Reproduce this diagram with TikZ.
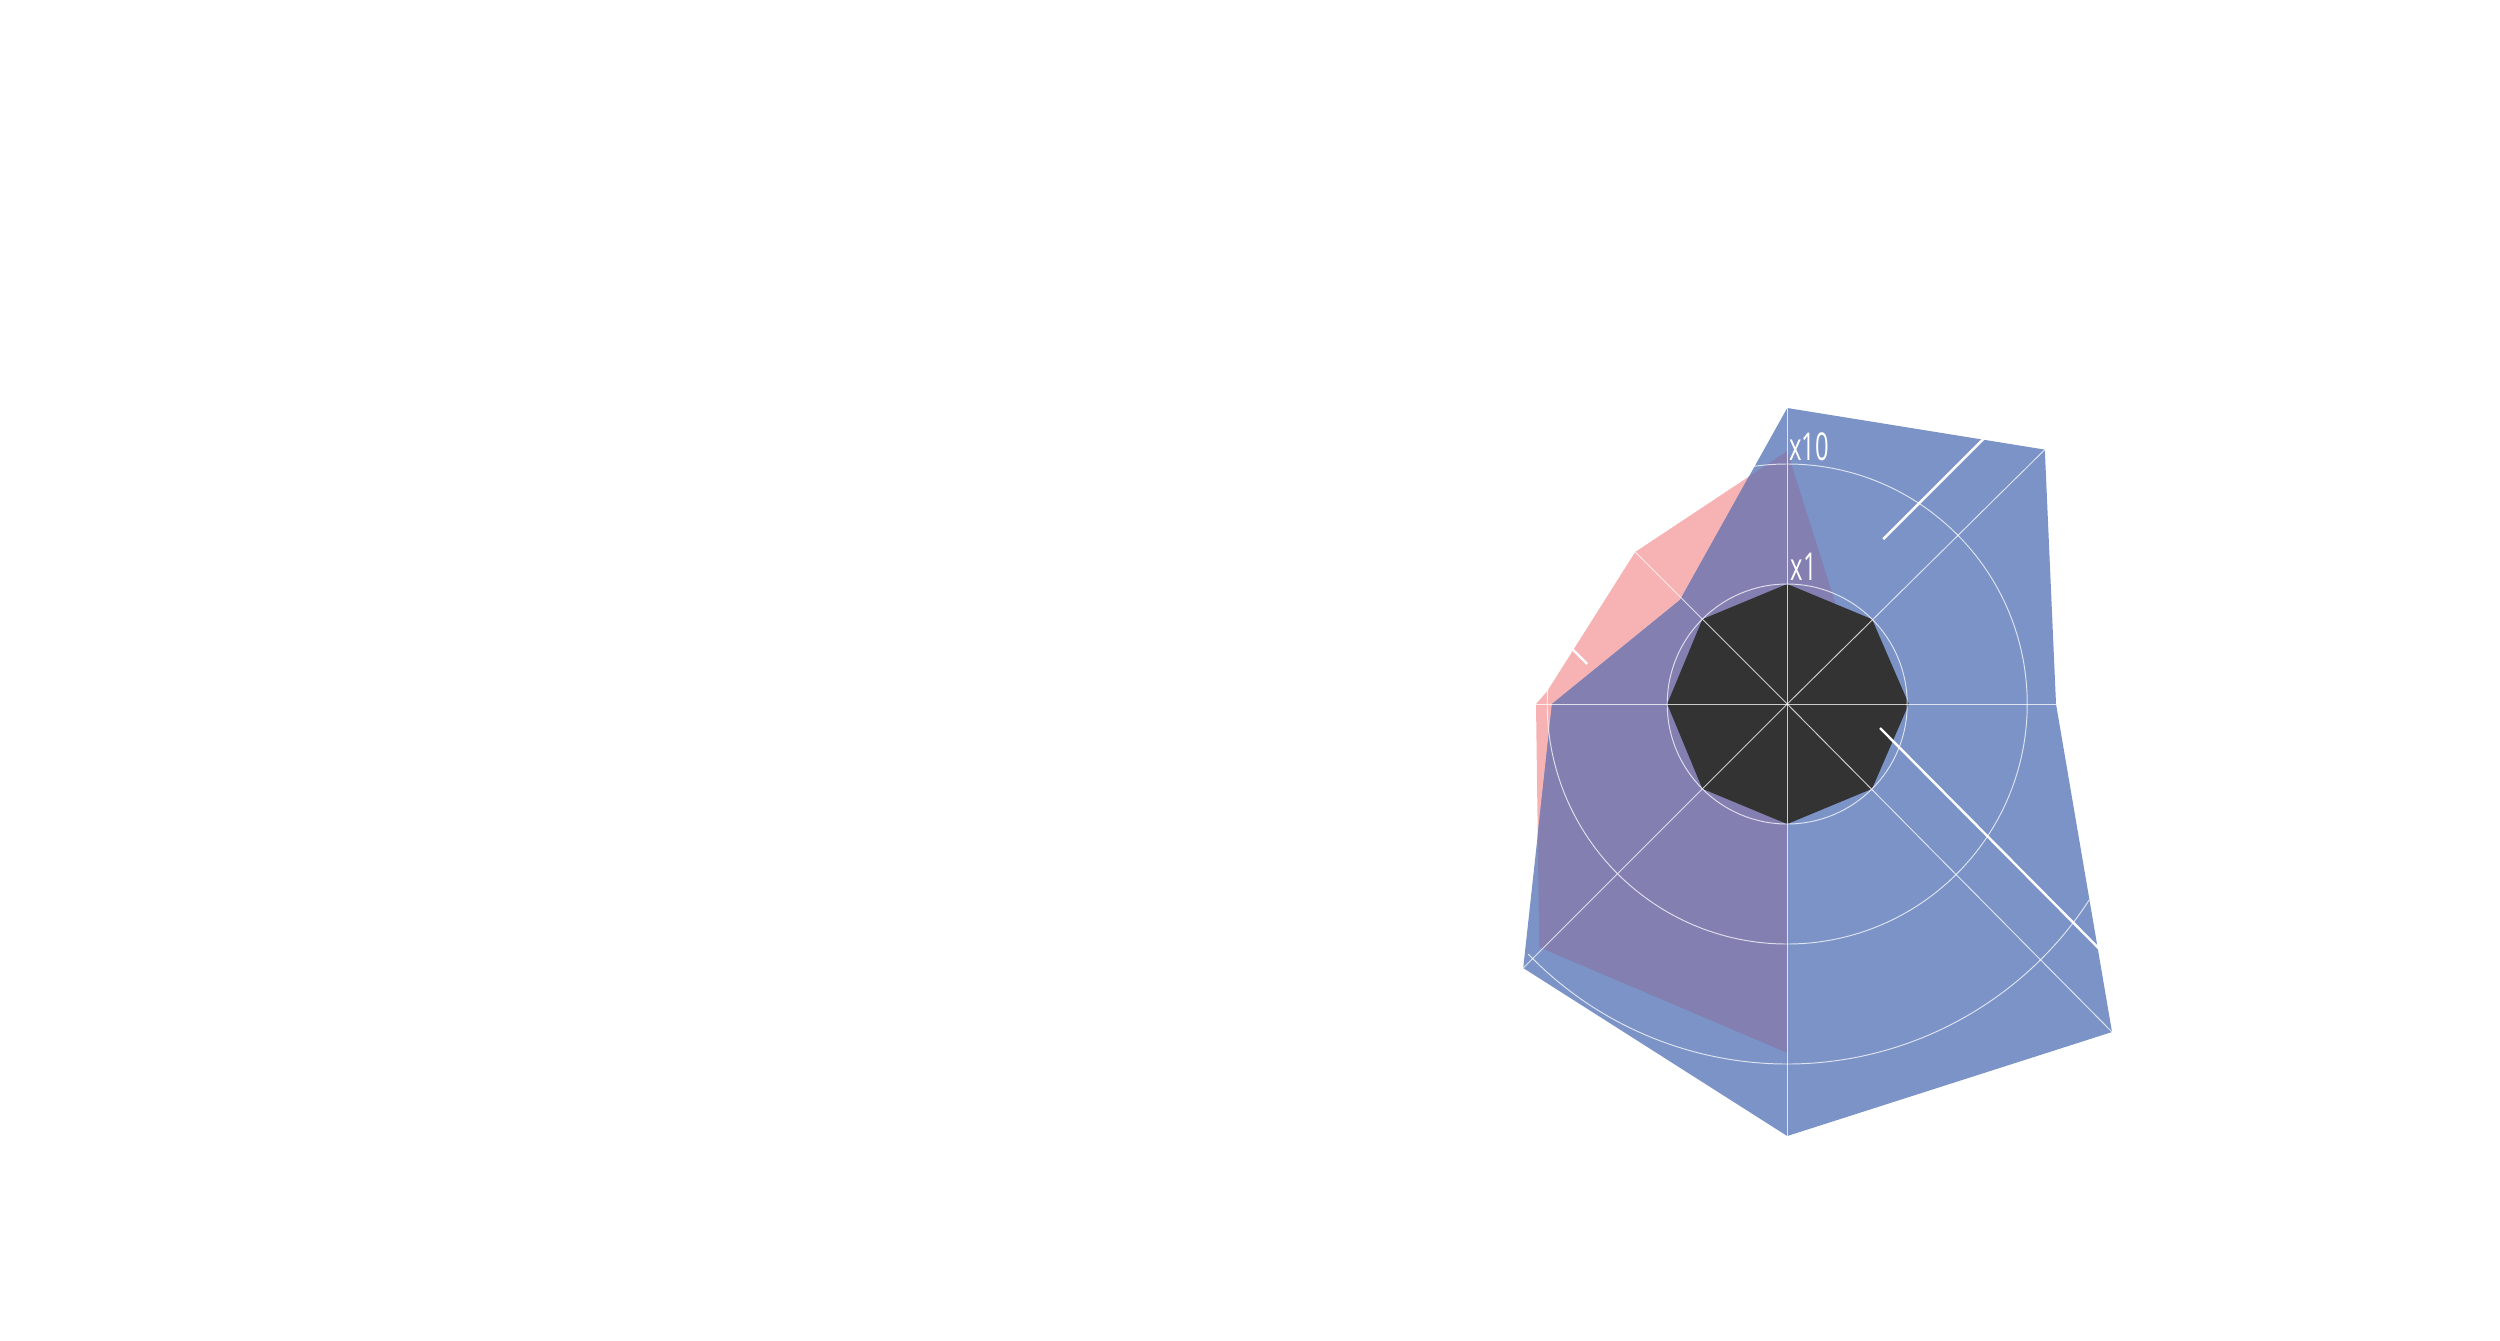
\documentclass[tikz,border=0pt]{standalone}
\usepackage{fontspec}
\setmainfont{Open Sans}
\begin{document}
\begin{tikzpicture}[x=1pt,y=-1pt,
  grid/.style={draw=white,opacity=0.75,line width=0.6pt},
  wmark/.style={draw=white,line width=1.5pt},
  lbl/.style={text=white,inner sep=0pt,font=\fontsize{24}{24}\selectfont}]
\definecolor{bl}{HTML}{7B93C7}
\definecolor{pk}{HTML}{F7B2B4}
\definecolor{pu}{HTML}{837FB1}
\definecolor{dk}{HTML}{333333}
\useasboundingbox (0,0) rectangle (1562.5,838);
\coordinate (C) at (1117,440);
\def\pinkpath{(1117,282) -- (1155,402) -- (1160,440) -- (1150,473) -- (1117,500) -- (1117,658) -- (962,592) -- (960,440) -- (967,432) -- (1022,345) -- cycle}
\def\bluepath{(1117,255) -- (1278,281) -- (1285,440) -- (1320,645) -- (1117,710) -- (952,605) -- (970,440) -- (1050,375) -- cycle}
\fill[pk] \pinkpath;
\fill[bl] \bluepath;
\begin{scope}
\clip \bluepath;
\fill[pu] \pinkpath;
\end{scope}
\fill[dk] (1117,365) -- (1170,387) -- (1193,440) -- (1170,493) -- (1117,515) -- (1064,493) -- (1042,440) -- (1064,387) -- cycle;
\draw[grid] (C) circle[radius=75];
\draw[grid] (C) circle[radius=150];
\draw[grid] (C) ++(136:225) arc[start angle=136,end angle=33,radius=225];
\coordinate (a0) at (1285,440);
\coordinate (a1) at (1278,281);
\coordinate (a2) at (1117,255);
\coordinate (a3) at (1022,345);
\coordinate (a4) at (960,440);
\coordinate (a5) at (952,605);
\coordinate (a6) at (1117,710);
\coordinate (a7) at (1320,645);
\foreach \i in {0,...,7}{\draw[grid] (C) -- (a\i);}
\coordinate (m1) at (1177,337); \coordinate (m2) at (1240,274);
\coordinate (m3) at (1175,455); \coordinate (m4) at (1312,593);
\coordinate (m5) at (982,405); \coordinate (m6) at (992,415);
\draw[wmark] (m1) -- (m2);
\draw[wmark] (m3) -- (m4);
\draw[wmark] (m5) -- (m6);
\node[lbl,anchor=south west] (x10) at (1118,288) {\scalebox{0.62}[1]{x10}};
\node[lbl,anchor=south west] (x1) at (1119,363) {\scalebox{0.62}[1]{x1}};
\end{tikzpicture}
\end{document}
